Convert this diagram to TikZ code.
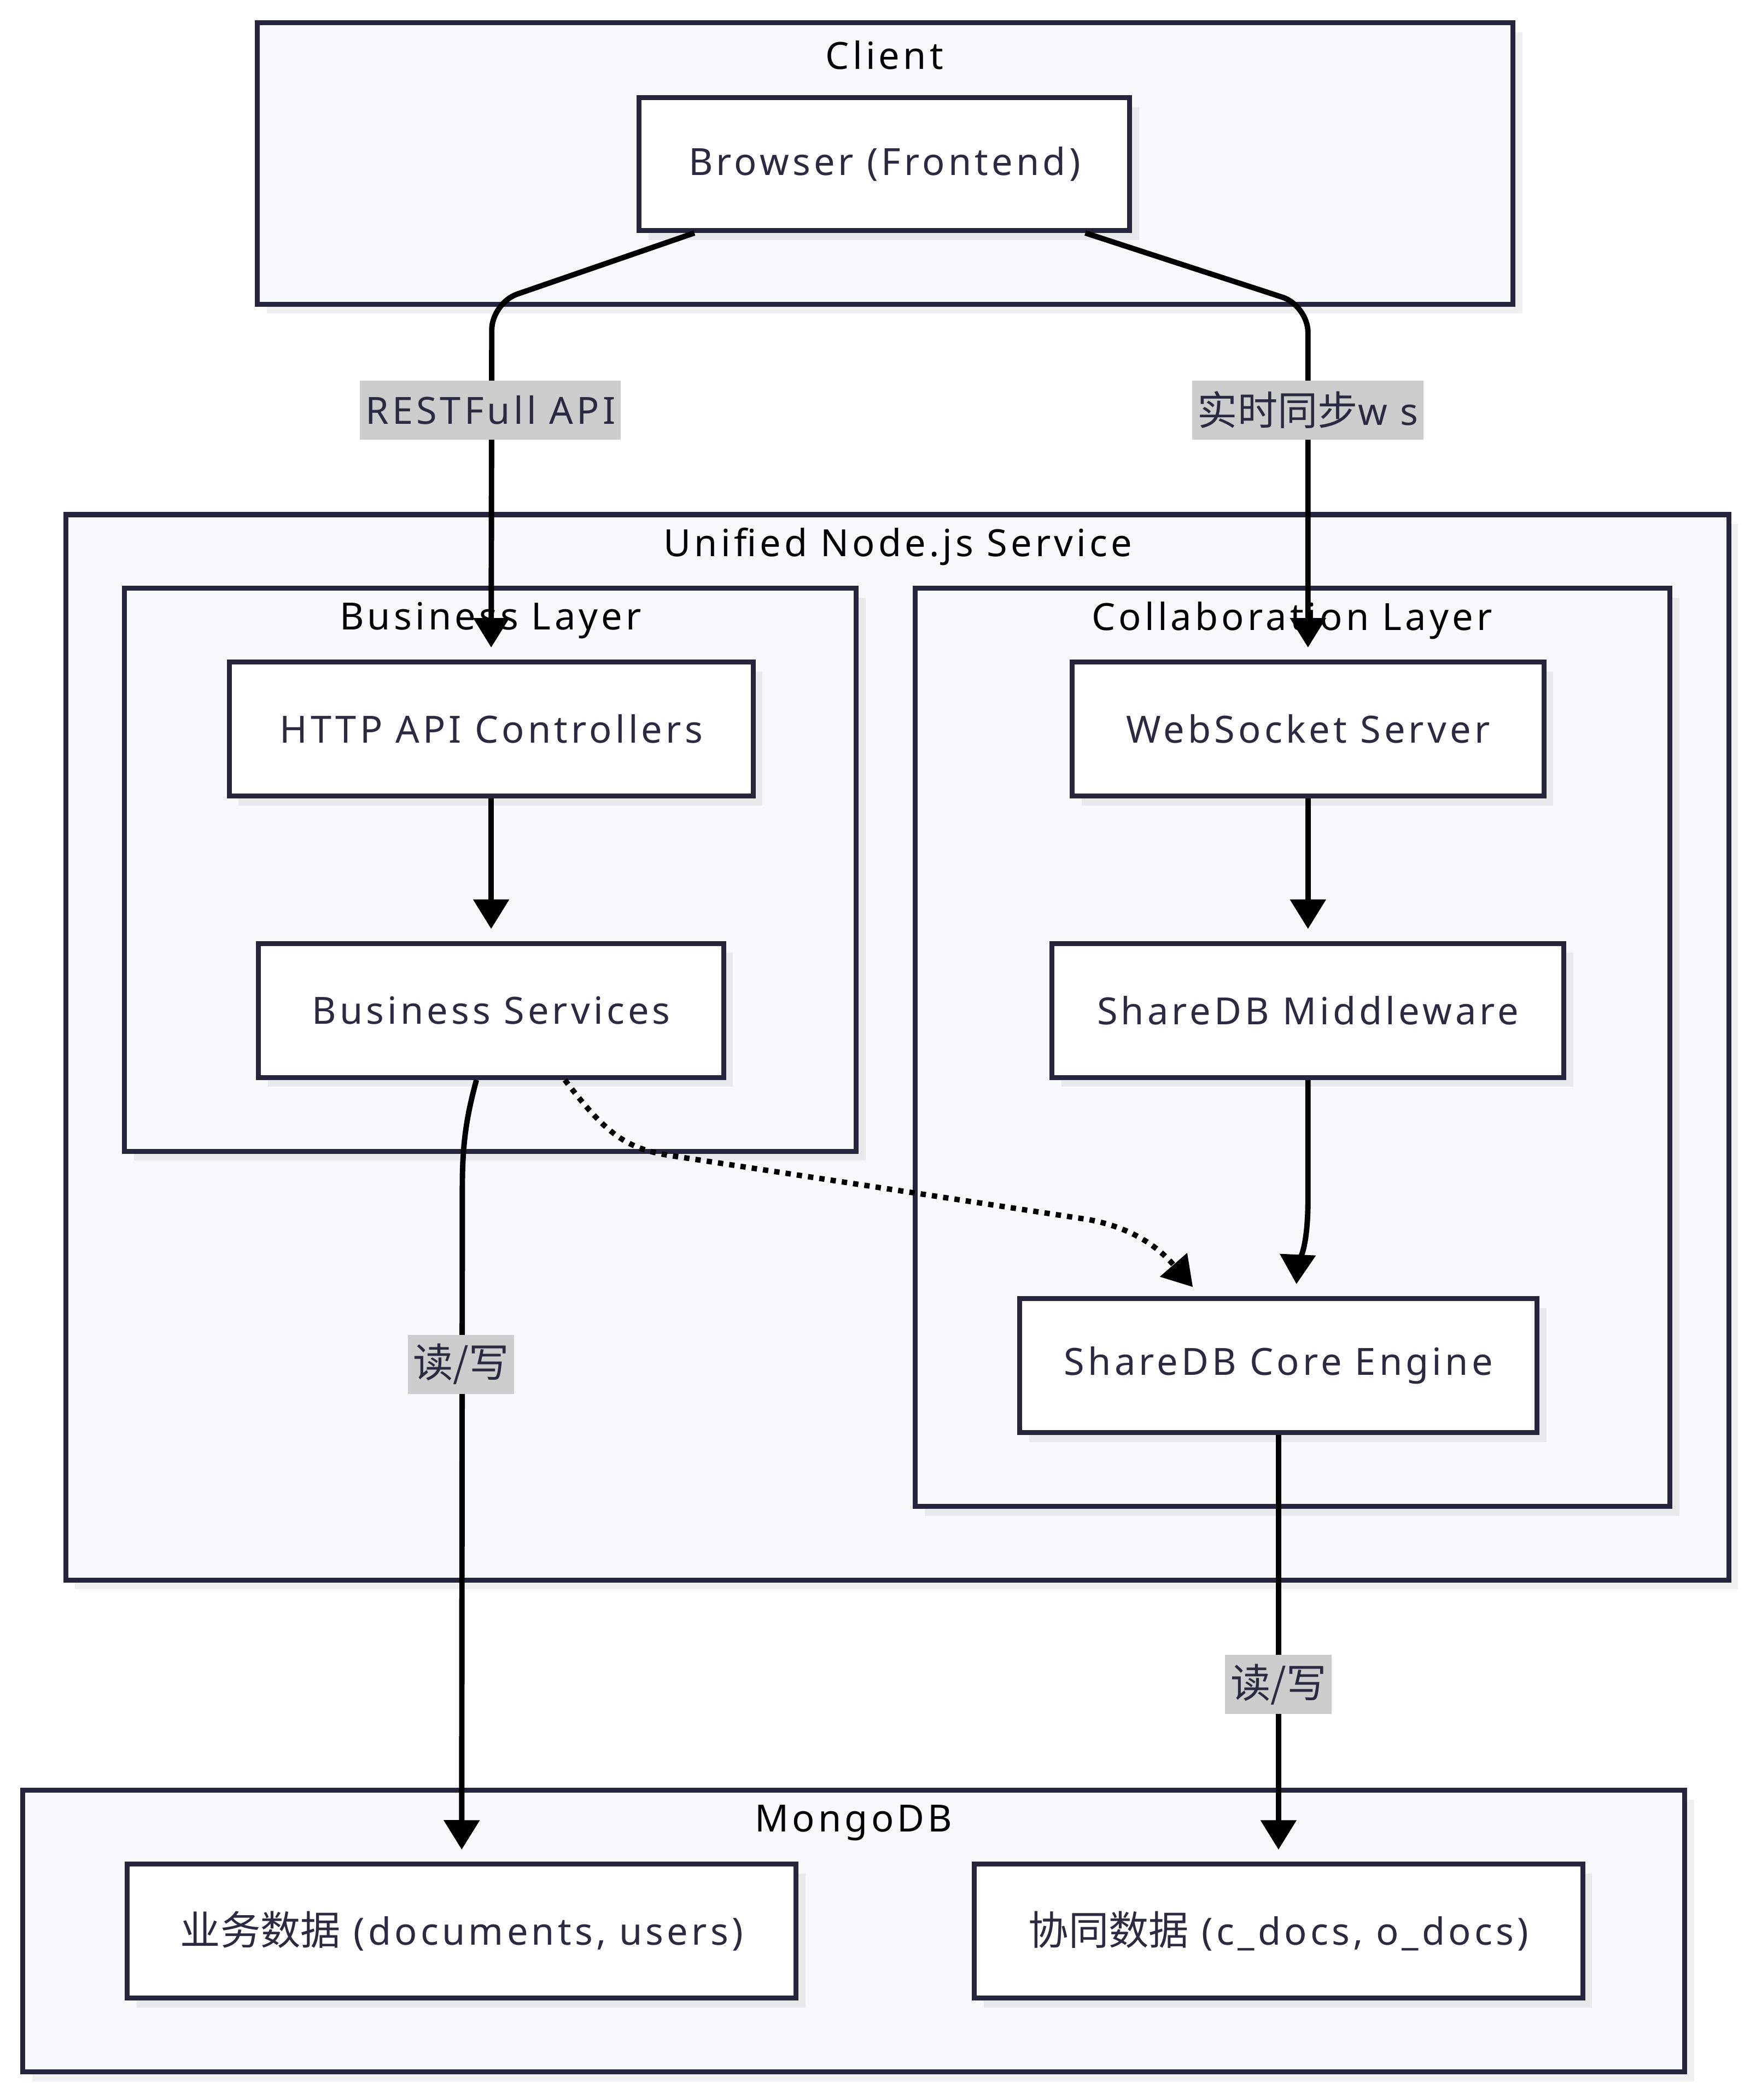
\documentclass[tikz,border=0pt]{standalone}
\usepackage{fontspec}
\setmainfont{Noto Sans}[LetterSpace=9]
\newfontfamily\cjk{Noto Sans CJK SC}[Scale=1.07]
\usetikzlibrary{arrows.meta,calc,shadows}
\definecolor{clusterfill}{HTML}{F8F8FA}
\definecolor{borderc}{HTML}{26253C}
\definecolor{textc}{HTML}{2B2A40}
\definecolor{labelbg}{HTML}{CCCCCC}
\begin{document}
\begin{tikzpicture}[x=0.2mm, y=-0.2mm,
	  font=\fontsize{15.9}{19}\selectfont,
	  shade/.style={drop shadow={shadow xshift=1.4mm, shadow yshift=-1.4mm, fill=black, opacity=0.06}},
	  cluster/.style={draw=borderc, fill=clusterfill, line width=2.1pt, shade},
	  ctitle/.style={text=black, inner sep=0pt},
	  box/.style={draw=borderc, fill=white, text=textc, line width=2.1pt, minimum height=20mm, inner sep=0pt, shade},
	  edge/.style={draw=black, line width=2.3pt, -{Triangle[length=4.4mm, width=5.2mm]}, shorten >=1.8mm},
	  dotedge/.style={edge, dash pattern=on 0.8mm off 0.9mm},
	  elabel/.style={fill=labelbg, text=textc, inner xsep=0.8mm, inner ysep=0pt, minimum height=8.8mm}]
	  \useasboundingbox (0,0) rectangle (1310,1567);
	  % groups
	  \draw[cluster] (192,17) rectangle (1129,227);
	  \draw[cluster] (49,384) rectangle (1290,1179);
	  \draw[cluster] (93,439) rectangle (639,859);
	  \draw[cluster] (683,439) rectangle (1246,1124);
	  \draw[cluster] (17,1336) rectangle (1257,1546);
	  \node[ctitle] (tClient) at (660,41) {Client};
	  \node[ctitle] (tService) at (670,408) {Unified Node.js Service};
	  \node[ctitle] (tBusiness) at (366,463) {Business Layer};
	  \node[ctitle] (tCollab) at (964,463) {Collaboration Layer};
	  \node[ctitle] (tMongo) at (637,1360) {MongoDB};
	  % boxes
	  \node[box, minimum width=73.2mm, minimum height=19.8mm] (browser) at (660,122.5) {Browser (Frontend)};
	  \node[box, minimum width=78.2mm] (http) at (366.5,544) {HTTP API Controllers};
	  \node[box, minimum width=70.4mm] (ws) at (976,544) {WebSocket Server};
	  \node[box, minimum width=69.4mm] (bsvc) at (366.5,754) {Business Services};
	  \node[box, minimum width=76.4mm] (mid) at (976,754) {ShareDB Middleware};
	  \node[box, minimum width=77.2mm] (core) at (954,1019) {ShareDB Core Engine};
	  \node[box, minimum width=99.8mm] (bdata) at (344.5,1441) {{\cjk 业务数据} (documents, users)};
	  \node[box, minimum width=90.8mm] (cdata) at (954,1441) {{\cjk 协同数据} (c\_docs, o\_docs)};
	  % links
	  \draw[edge, rounded corners=4mm] ($(browser.south west)+(43,0)$) -- (367,226) -- (http.north);
	  \draw[edge, rounded corners=4mm] ($(browser.south east)+(-35,0)$) -- (976,228) -- (ws.north);
	  \draw[edge] (http.south) -- (bsvc.north);
	  \draw[edge] (ws.south) -- (mid.north);
	  \draw[edge] (mid.south) -- (976,895) .. controls (976,935) and (968,945) .. ($(core.north)+(13,0)$);
	  \draw[dotedge] ($(bsvc.south)+(55,0)$) .. controls (455,850) and (470,858) .. (505,863) -- (812,910) .. controls (850,917) and (868,935) .. ($(core.north)+(-58,0)$);
	  \draw[edge] ($(bsvc.south)+(-11,0)$) .. controls (349,830) and (345,850) .. (345,885) -- (bdata.north);
	  \draw[edge] (core.south) -- (cdata.north);
	  \node[elabel] (lRest) at (366,306) {RESTFull API};
	  \node[elabel] (lSync) at (976,306) {{\cjk 实时同步}w s};
	  \node[elabel] (lRw1) at (344,1018) {{\cjk 读/写}};
	  \node[elabel] (lRw2) at (954,1257) {{\cjk 读/写}};
\end{tikzpicture}
\end{document}
